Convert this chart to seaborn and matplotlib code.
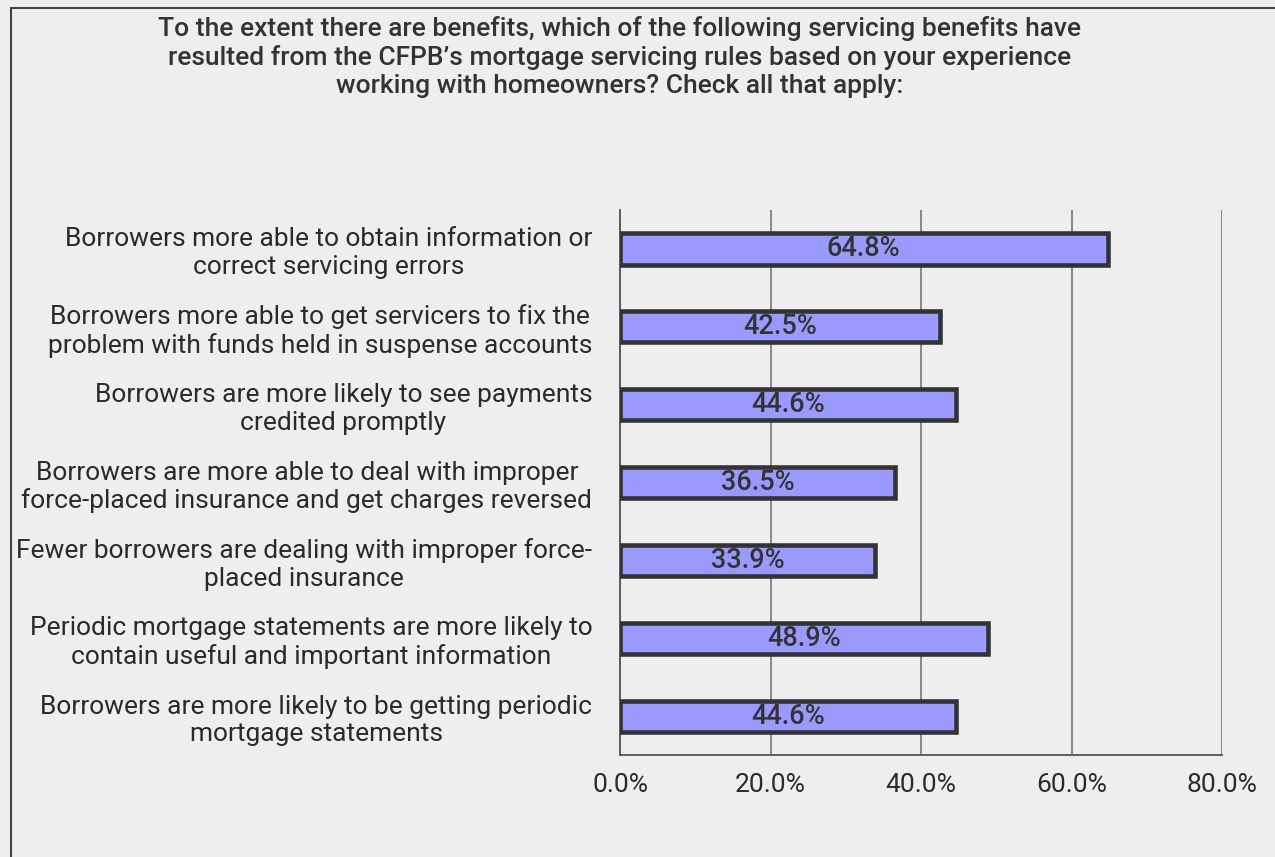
import matplotlib
matplotlib.use("Agg")
import matplotlib.pyplot as plt
from matplotlib.patches import Rectangle
from matplotlib.ticker import FixedLocator, FuncFormatter
import seaborn as sns
import pandas as pd

title = ("To the extent there are benefits, which of the following servicing benefits have\n"
         "resulted from the CFPB\u2019s mortgage servicing rules based on your experience\n"
         "working with homeowners? Check all that apply:")

categories = [
    "Borrowers more able to obtain information or\ncorrect servicing errors",
    "Borrowers more able to get servicers to fix the\nproblem with funds held in suspense accounts",
    "Borrowers are more likely to see payments\ncredited promptly",
    "Borrowers are more able to deal with improper\nforce-placed insurance and get charges reversed",
    "Fewer borrowers are dealing with improper force-\nplaced insurance",
    "Periodic mortgage statements are more likely to\ncontain useful and important information",
    "Borrowers are more likely to be getting periodic\nmortgage statements",
]
values = [64.8, 42.5, 44.6, 36.5, 33.9, 48.9, 44.6]
x_ticks = [0, 20, 40, 60, 80]

df = pd.DataFrame({"benefit": categories, "pct": values})

sns.set_theme(style="white")
plt.rcParams["font.family"] = ["Roboto", "DejaVu Sans"]

BG = "#EEEEEE"
TXT = "#2A2A2A"

fig = plt.figure(figsize=(12.75, 8.57), dpi=100, facecolor=BG)
ax = fig.add_axes([620 / 1275, 1 - 755 / 857, (1222 - 620) / 1275, (755 - 210) / 857])
ax.set_facecolor(BG)

sns.barplot(data=df, x="pct", y="benefit", orient="h", ax=ax,
            color="#9999FF", saturation=1, width=0.40,
            edgecolor="#333333", linewidth=3.3, zorder=3)

ax.set_xlim(0, 80)
ax.set_ylim(len(categories) - 0.5, -0.5)
ax.xaxis.set_major_locator(FixedLocator(x_ticks))
ax.xaxis.set_major_formatter(FuncFormatter(lambda v, p: f"{v:.1f}%"))
ax.grid(axis="x", color="#808080", linewidth=1.3, zorder=0)
ax.grid(axis="y", visible=False)

for s in ["top", "right"]:
    ax.spines[s].set_visible(False)
for s in ["left", "bottom"]:
    ax.spines[s].set_color("#555555")
    ax.spines[s].set_linewidth(1.3)

# category boundaries as y ticks, labels as minor ticks
ax.set_yticks([i - 0.5 for i in range(len(categories) + 1)])
ax.set_yticklabels([])
ax.set_yticks(range(len(categories)), minor=True)
ax.set_yticklabels(categories, minor=True, fontsize=19, color=TXT, linespacing=1.18)
ax.tick_params(axis="y", which="major", length=8, width=1.3, color="#555555", direction="out")
ax.tick_params(axis="y", which="minor", length=0, pad=20)
ax.tick_params(axis="x", length=8, width=1.3, color="#555555", direction="out",
               labelsize=19, labelcolor=TXT, pad=5)
ax.set_xlabel("")
ax.set_ylabel("")
for lab in ax.get_yticklabels(minor=True):
    lab.set_horizontalalignment("right")
    lab.set_multialignment("center")

for i, v in enumerate(values):
    ax.text(v / 2, i, f"{v:.1f}%", ha="center", va="center",
            fontsize=19.5, fontweight="medium", color="#333333", zorder=4)

fig.text(620 / 1275, 1 - 57 / 857, title, ha="center", va="center",
         fontsize=19, fontweight="medium", color="#333333", linespacing=1.2)

fig.patches.append(Rectangle((11 / 1275, -0.1), 1.2, 1 - 8 / 857 + 0.1,
                             transform=fig.transFigure, fill=False,
                             edgecolor="#444444", linewidth=1.5))

fig.savefig("out.png", dpi=100, facecolor=BG)
